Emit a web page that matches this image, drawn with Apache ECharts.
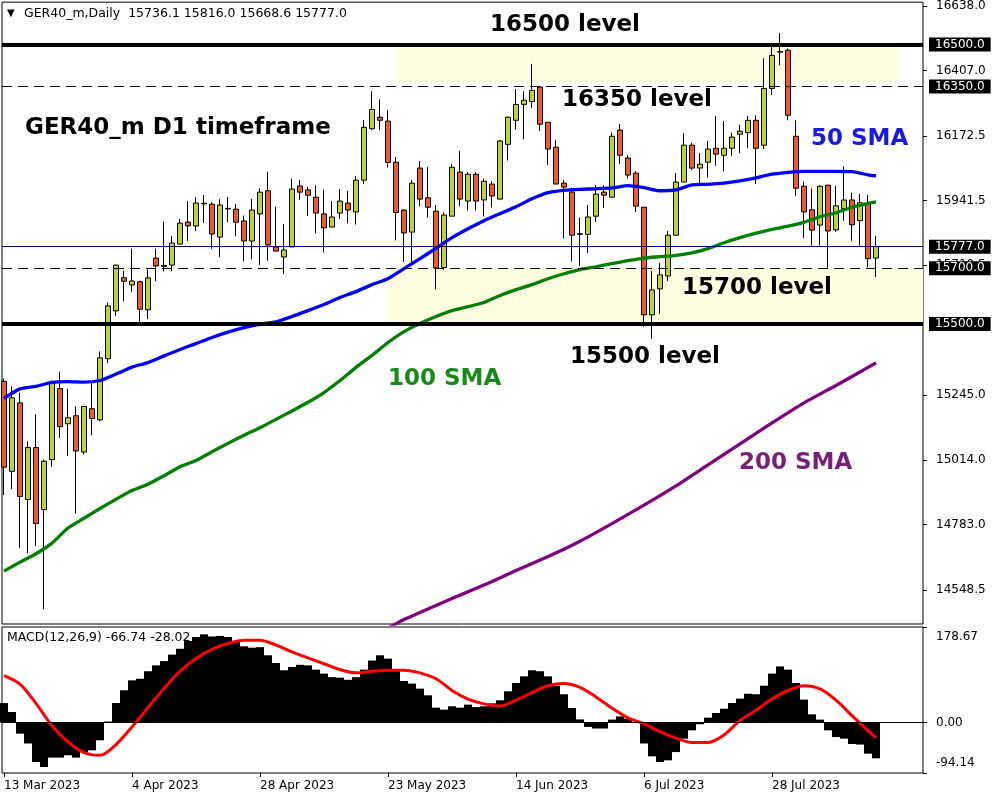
<!DOCTYPE html>
<html><head><meta charset="utf-8">
<script src="https://cdn.jsdelivr.net/npm/echarts@6/dist/echarts.min.js"></script>
<style>html,body{margin:0;padding:0;background:#fff}#c{width:1000px;height:800px}</style>
</head><body><div id="c"></div>
<script>
// ---- data ----
const tickIdx = [0, 16, 32, 48, 64, 80, 96];
const tickLabels = ['13 Mar 2023', '4 Apr 2023', '28 Apr 2023', '23 May 2023', '14 Jun 2023', '6 Jul 2023', '28 Jul 2023'];
const priceTicks = [14548.5, 14783.0, 15014.0, 15245.0, 15710.5, 15941.5, 16172.5, 16407.0, 16638.0];
const macdTicks = [-94.14, 0, 178.67];

const openP = [15295,14973,15218,14872,15058,14836,15015,15269,15143,15172,
15042,15197,15157,15376,15547,15666,15640,15651,15551,15736,
15706,15711,15786,15865,15851,15932,15929,15811,15914,15911,
15869,15797,15894,15977,15776,15740,15776,15994,15980,15954,
15894,15847,15897,15933,15901,16015,16199,16240,16226,16079,
15908,15829,16058,15952,15904,15702,15886,16044,15940,16036,
15944,16001,15947,16143,16229,16286,16296,16348,16222,16133,
16004,15972,15823,15821,15886,15972,15954,16194,16094,16040,
15918,15533,15626,15672,15818,16008,16140,16058,16079,16129,
16104,16129,16179,16185,16229,16140,16343,16475,16480,16172,
15993,15909,15854,15997,15837,15913,15944,15870,15930,15736.1];
const closeP = [14988,15236,14883,15058,14786,15009,15289,15133,15165,15046,
15205,15162,15379,15565,15711,15653,15654,15553,15665,15708,
15710,15790,15861,15851,15933,15930,15822,15926,15912,15864,
15797,15908,15972,15783,15761,15765,15983,15972,15961,15897,
15844,15883,15940,15908,16015,16204,16268,16229,16078,15899,
15826,16004,15947,15918,15701,15890,16061,15947,16036,15940,
16011,15958,16155,16240,16286,16301,16336,16215,16126,16001,
15990,15818,15821,15883,15965,15961,16172,16104,16033,15922,
15533,15622,15676,15818,16008,16140,16058,16072,16126,16108,
16129,16169,16190,16229,16129,16343,16461,16473,16247,15986,
15901,15836,15993,15833,15923,15944,15855,15934,15734,15777.0];
const lowP = [14888,14909,14699,14679,14706,14479,14989,15092,15028,14822,
15033,15102,15152,15360,15528,15581,15614,15506,15517,15653,
15688,15689,15786,15797,15833,15861,15769,15739,15864,15814,
15724,15731,15711,15727,15761,15679,15776,15944,15886,15824,
15756,15847,15876,15860,15856,16001,16194,16194,16060,15799,
15722,15722,15921,15881,15624,15694,15886,15921,15906,15906,
15885,15917,15947,16085,16196,16161,16272,16191,16069,16001,
15806,15724,15708,15754,15865,15915,15954,16072,16022,15901,
15490,15447,15537,15654,15818,16008,16050,16001,16024,16066,
16046,16102,16111,16129,16001,16126,16319,16426,16229,15959,
15808,15780,15780,15701,15830,15870,15798,15780,15703,15668.6];
const highP = [15305,15277,15254,15080,15177,15015,15298,15330,15269,15205,
15207,15289,15402,15577,15712,15691,15770,15655,15695,15770,
15866,15815,15876,15940,15954,15962,15936,15947,15955,15930,
15888,15948,15986,16045,15920,15858,16020,16016,15990,15997,
15980,15940,15983,15976,16029,16230,16333,16304,16266,16098,
15911,16015,16083,16062,15926,15899,16072,16120,16044,16044,
16020,16011,16159,16243,16341,16333,16431,16352,16222,16158,
16016,15989,15881,15926,15997,15997,16186,16216,16104,16047,
15918,15690,15719,15833,16040,16183,16149,16112,16155,16245,
16227,16185,16213,16245,16247,16451,16492,16542,16486,16229,
16009,15985,15997,15997,15995,16064,15970,15966,15962,15816.0];

const smaIdx = [0,2,4,6,8,10,12,14,16,18,20,22,24,26,28,30,32,34,36,38,40,42,44,46,48,50,52,54,56,58,60,62,64,66,68,70,72,74,76,78,80,82,84,86,88,90,92,94,96,98,100,102,104,106,108,109];
const sma50 = [15234,15268,15277,15291,15294,15292,15298,15321,15346,15362,15386,15409,15430,15452,15471,15487,15500,15508,15527,15548,15570,15595,15616,15641,15662,15698,15734,15771,15809,15841,15870,15895,15920,15948,15970,15978,15982,15984,15987,15995,15988,15977,15980,15998,16000,16004,16012,16023,16036,16043,16046,16046,16046,16045,16034,16030];
const sma100 = [14616,14648,14678,14716,14770,14805,14840,14873,14904,14927,14957,14989,15012,15043,15073,15102,15129,15159,15189,15220,15255,15298,15345,15388,15434,15473,15502,15527,15548,15562,15577,15602,15623,15641,15662,15680,15695,15705,15716,15727,15736,15741,15746,15755,15770,15791,15809,15825,15839,15850,15864,15884,15898,15918,15932,15937];
const sma200Idx = [48,50,52,56,60,64,68,72,76,80,84,88,92,96,100,104,108,109];
const sma200 = [14412,14443,14468,14518,14566,14618,14668,14723,14786,14852,14921,14996,15071,15146,15218,15280,15345,15361];

const macdHist = [36.6,19.8,-20.6,-39,-73.6,-83,-65.4,-65.4,-61,-65.4,
-55,-51.8,-33,2,36.6,60.4,79,82,96,107,
115,127,138,152.5,160,165,161,162,160,150.7,
142.6,140,141,125.8,111.4,97.8,104,108,107,99,
91.6,85,84,80,85,99,116,125.8,119.6,97.8,
77.8,72.9,63.5,51,28,24.3,30.5,28,33.6,29,
30.5,36,41.7,58.5,74,86.5,97.8,96,86.5,69,
53,27.3,6,-8,-11,-11,5.6,11.7,7.5,1.5,
-39,-63,-73.6,-70.5,-55,-30,-14.4,-3,9.3,18,
26,36.6,44.9,54,53,69,91.6,105,99,74,
43,15.5,5.6,-14.4,-27,-30,-40,-41,-58,-66.74];
const signal = [88,72,36,-6,-36,-56,-61,-41,-8,28,64,96,120,137,148,154,154,145,132,121,110,99,93,96,98,98,93,82,60,44,35,31,42,56,69,73,66,48,27,9,-2,-17,-29,-37,-37,-23,4,23,44,60,69,63,42,13,-15,-28.02];

const levelThick = [16500, 15500];
const levelDashed = [16350, 15700];
const bidPrice = 15777.0;
const zoneTop = [[48.9, 16366], [111.9, 16500]];
const zoneBottom = [[47.9, 15500], [114.875, 15700]];

// ---- chart ----
const FONT = 'DejaVu Sans';
const chart = echarts.init(document.getElementById('c'));
const pair = (idx, vals) => idx.map((x, k) => [x, vals[k]]);
const candleData = openP.map((o, i) => [i, o, closeP[i], lowP[i], highP[i]]);
const boxLabel = {show: true, position: 'end', distance: 6, formatter: p => Number(p.value).toFixed(1),
  color: '#fff', backgroundColor: '#000', padding: [1, 6, 1, 6], fontFamily: FONT, fontSize: 12, lineHeight: 12};
const markLines = [];
levelThick.forEach(v => markLines.push({yAxis: v, lineStyle: {color: '#000', width: 4, type: 'solid'}, label: boxLabel}));
levelDashed.forEach(v => markLines.push({yAxis: v, lineStyle: {color: '#000', width: 1, type: [10, 6]}, label: boxLabel}));
markLines.push({yAxis: bidPrice, lineStyle: {color: '#000080', width: 1, type: 'solid'}, label: boxLabel});

const boldText = (text, x, y, fill) => ({type: 'text', x: x, y: y, z: 100, silent: true,
  style: {text: text, fill: fill, font: 'bold 23px "DejaVu Sans"', align: 'left', verticalAlign: 'middle',
    textShadowColor: 'rgba(120,170,255,0.55)', textShadowOffsetX: 1, textShadowOffsetY: 1, textShadowBlur: 0}});

const xBase = {type: 'value', min: -0.25, max: 114.875, splitLine: {show: false}, axisLine: {show: false, onZero: false}};

chart.setOption({
  animation: false,
  backgroundColor: '#fff',
  grid: [
    {left: 2, top: 1, width: 921, height: 623, show: true, borderColor: '#000', borderWidth: 1, backgroundColor: '#fff'},
    {left: 2, top: 627, width: 921, height: 146, show: true, borderColor: '#000', borderWidth: 1, backgroundColor: '#fff'}
  ],
  xAxis: [
    Object.assign({gridIndex: 0, axisTick: {show: false}, axisLabel: {show: false}}, xBase),
    Object.assign({gridIndex: 1,
      axisTick: {show: true, customValues: tickIdx, length: 4, lineStyle: {color: '#000'}},
      axisLabel: {show: true, customValues: tickIdx, formatter: v => tickLabels[tickIdx.indexOf(Math.round(v))] || '',
        align: 'left', margin: 7, color: '#000', fontFamily: FONT, fontSize: 12}}, xBase)
  ],
  yAxis: [
    {gridIndex: 0, type: 'value', position: 'right', min: 14426.7, max: 16651.7,
      splitLine: {show: false}, axisLine: {show: false, onZero: false},
      axisTick: {show: true, customValues: priceTicks, length: 4, lineStyle: {color: '#000'}},
      axisLabel: {customValues: priceTicks, formatter: v => v.toFixed(1), margin: 13, color: '#000', fontFamily: FONT, fontSize: 12}},
    {gridIndex: 1, type: 'value', position: 'right', min: -94.14, max: 178.67,
      splitLine: {show: false}, axisLine: {show: false, onZero: false},
      axisTick: {show: true, customValues: macdTicks, length: 4, lineStyle: {color: '#000'}},
      axisLabel: {customValues: macdTicks, formatter: v => v.toFixed(2), margin: 13, color: '#000', fontFamily: FONT, fontSize: 12,
        lineHeight: 20, verticalAlignMaxLabel: 'top', verticalAlignMinLabel: 'bottom'}}
  ],
  series: [
    {type: 'line', xAxisIndex: 0, yAxisIndex: 0, data: [], z: 1, silent: true,
      markArea: {silent: true, itemStyle: {color: '#FFFDE0'},
        data: [
          [{xAxis: zoneTop[0][0], yAxis: zoneTop[0][1]}, {xAxis: zoneTop[1][0], yAxis: zoneTop[1][1]}],
          [{xAxis: zoneBottom[0][0], yAxis: zoneBottom[0][1]}, {xAxis: zoneBottom[1][0], yAxis: zoneBottom[1][1]}]
        ]}},
    {type: 'candlestick', xAxisIndex: 0, yAxisIndex: 0, data: candleData, barWidth: 5, z: 2, silent: true,
      itemStyle: {color: '#BFD330', color0: '#F05A28', borderColor: '#000', borderColor0: '#000', borderColorDoji: '#000', borderWidth: 1},
      markLine: {silent: true, symbol: ['none', 'none'], data: markLines}},
    {type: 'line', xAxisIndex: 0, yAxisIndex: 0, data: pair(smaIdx, sma50), showSymbol: false, smooth: 0.2, z: 3,
      lineStyle: {color: '#0000FF', width: 3.3}},
    {type: 'line', xAxisIndex: 0, yAxisIndex: 0, data: pair(smaIdx, sma100), showSymbol: false, smooth: 0.2, z: 3,
      lineStyle: {color: '#008000', width: 3.3}},
    {type: 'line', xAxisIndex: 0, yAxisIndex: 0, data: pair(sma200Idx, sma200), showSymbol: false, smooth: 0.2, z: 3,
      lineStyle: {color: '#800080', width: 3.3}},
    {type: 'bar', xAxisIndex: 1, yAxisIndex: 1, data: macdHist.map((v, i) => [i, v]), barWidth: 8, z: 2,
      itemStyle: {color: '#000'},
      markLine: {silent: true, symbol: ['none', 'none'], label: {show: false},
        data: [{yAxis: 0, lineStyle: {color: '#000', width: 1, type: 'solid'}}]}},
    {type: 'line', xAxisIndex: 1, yAxisIndex: 1, data: pair(smaIdx, signal), showSymbol: false, smooth: 0.3, z: 3,
      lineStyle: {color: '#FF0000', width: 3}}
  ],
  graphic: [
    {type: 'text', x: 7, y: 13, z: 100, silent: true, style: {text: '▼', fill: '#000', font: '10px "DejaVu Sans"', verticalAlign: 'middle'}},
    {type: 'text', x: 24, y: 14, z: 100, silent: true, style: {text: 'GER40_m,Daily  15736.1 15816.0 15668.6 15777.0', fill: '#000', font: '12.5px "DejaVu Sans"', verticalAlign: 'middle'}},
    {type: 'text', x: 7, y: 638, z: 100, silent: true, style: {text: 'MACD(12,26,9) -66.74 -28.02', fill: '#000', font: '12.5px "DejaVu Sans"', verticalAlign: 'middle'}},
    boldText('16500 level', 490, 25, '#000'),
    boldText('16350 level', 562, 100, '#000'),
    boldText('GER40_m D1 timeframe', 25, 128, '#000'),
    boldText('50 SMA', 811, 139, '#1818E8'),
    boldText('15700 level', 682, 288, '#000'),
    boldText('15500 level', 570, 357, '#000'),
    boldText('100 SMA', 388, 379, '#178A17'),
    boldText('200 SMA', 739, 463, '#7A1E7A')
  ]
});
</script></body></html>
